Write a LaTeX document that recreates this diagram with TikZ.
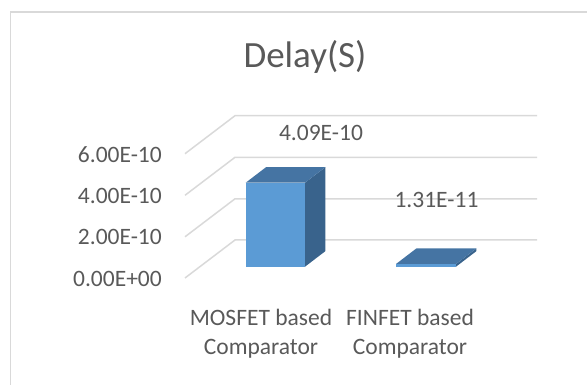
\documentclass[tikz,border=0pt]{standalone}
\usepackage{fontspec}
\setmainfont{Carlito}
\usetikzlibrary{calc,positioning}
\definecolor{txtgray}{RGB}{89,89,89}
\definecolor{gridgray}{RGB}{217,217,217}
\definecolor{barfront}{RGB}{91,155,213}
\definecolor{bartop}{RGB}{69,116,163}
\definecolor{barside}{RGB}{57,99,140}

\begin{document}
\begin{tikzpicture}[x=1pt,y=-1pt,
    lbl/.style={text=txtgray,inner sep=0pt,font=\fontsize{23.5}{28}\selectfont},
    gridline/.style={draw=gridgray,line width=1.5pt},
    front/.style={fill=barfront},
    side/.style={fill=barside},
    topface/.style={fill=bartop}]
%
  \useasboundingbox (0,0) rectangle (587,385);
%
  \draw [gridline] (10.5,385) -- (10.5,12) -- (587,12);
%
  \node (title) [lbl,anchor=base,font=\fontsize{37}{44}\selectfont] at (305,68) {Delay(S)};
%
  \foreach \v/\yy [count=\i] in {0.00E+00/240,2.00E-10/198.8,4.00E-10/157.3,6.00E-10/115.7} {
    \coordinate (gf\i) at (185,\yy+38);
    \coordinate (gb\i) at (235,\yy);
    \coordinate (ge\i) at (537,\yy);
    \draw [gridline] (gf\i) -- (gb\i) -- (ge\i);
    \node (ylab\i) [lbl,anchor=east] at (162,\yy+38.5) {\v};
  }
%
  % MOSFET bar
  \coordinate (m1) at (245.7,266.7);
  \coordinate (m2) at (305,266.7);
  \coordinate (m3) at (305,182.7);
  \coordinate (m4) at (245.7,182.7);
  \fill [side] (m2) -- ++(20.3,-15.5) -- ++(0,-84) -- (m3) -- cycle;
  \fill [topface] (m4) -- ++(20.3,-15.5) -- ++(59.3,0) -- (m3) -- cycle;
  \fill [front] (m1) rectangle (m3);
%
  % FINFET bar
  \coordinate (f1) at (396,266.7);
  \coordinate (f2) at (456,266.7);
  \coordinate (f3) at (456,264);
  \coordinate (f4) at (396,264);
  \fill [side] (f2) -- ++(20.3,-15.5) -- ++(0,-2.7) -- (f3) -- cycle;
  \fill [topface] (f4) -- ++(20.3,-15.5) -- ++(60,0) -- (f3) -- cycle;
  \fill [front] (f1) rectangle (f3);
%
  \node (val1) [lbl] at (321,133) {4.09E-10};
  \node (val2) [lbl] at (436.5,200) {1.31E-11};
%
  \node (cat1a) [lbl,anchor=base] at (261,325.5) {MOSFET based};
  \node (cat1b) [lbl,anchor=base] at (261,354.5) {Comparator};
  \node (cat2a) [lbl,anchor=base] at (410,325.5) {FINFET based};
  \node (cat2b) [lbl,anchor=base] at (410,354.5) {Comparator};
%
\end{tikzpicture}
\end{document}
